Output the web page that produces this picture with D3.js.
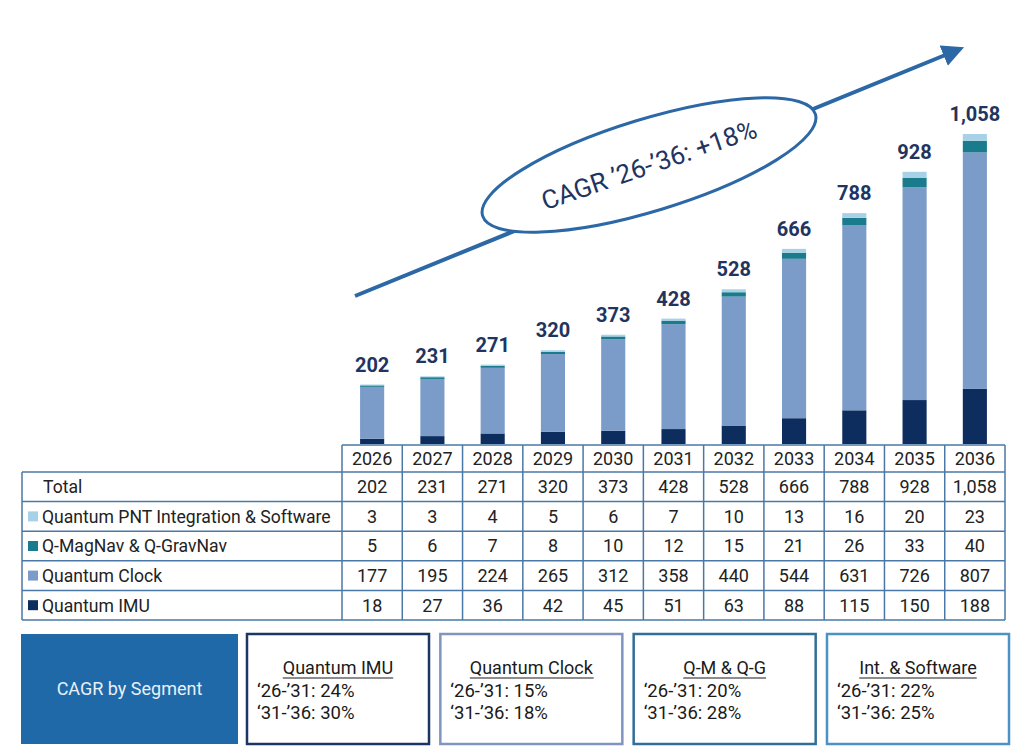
<!DOCTYPE html>
<html lang="en">
<head>
<meta charset="UTF-8">
<title>Quantum PNT market</title>
<script src="https://d3js.org/d3.v7.min.js"></script>
<style>
  body { margin: 0; background: #fff; }
  svg { display: block; font-family: Roboto, "Noto Sans", sans-serif; }
</style>
</head>
<body>
<svg id="chart" width="1024" height="755"></svg>
<script>
// data
const years = ["2026", "2027", "2028", "2029", "2030", "2031", "2032", "2033", "2034", "2035", "2036"];
const totals = [202, 231, 271, 320, 373, 428, 528, 666, 788, 928, 1058];
const pnt = [3, 3, 4, 5, 6, 7, 10, 13, 16, 20, 23];
const magnav = [5, 6, 7, 8, 10, 12, 15, 21, 26, 33, 40];
const clock = [177, 195, 224, 265, 312, 358, 440, 544, 631, 726, 807];
const imu = [18, 27, 36, 42, 45, 51, 63, 88, 115, 150, 188];

const segNames = ["Quantum IMU", "Quantum Clock", "Q-MagNav & Q-GravNav", "Quantum PNT Integration & Software"];
const segColors = ["#0e2d5f", "#7b9bc8", "#1a7b8d", "#a7d1e6"];

const cagrTitles = ["Quantum IMU", "Quantum Clock", "Q-M & Q-G", "Int. & Software"];
const cagr2631 = ["24%", "15%", "20%", "22%"];
const cagr3136 = ["30%", "18%", "28%", "25%"];
const cagrBorders = ["#1b3564", "#7f95c0", "#2f6f98", "#4a93c4"];

const svg = d3.select("#chart");
const navy = "#1f3560";
const lineBlue = "#2c68a6";
const gridBlue = "#4a78a6";

// columns of the table, bars sit in the same columns
const col = d3.scaleBand().domain(years).range([342, 1005]);
const y = d3.scaleLinear().domain([0, 1058]).range([444, 134]);
const barW = col.bandwidth() * 0.4;

// growth arrow with the CAGR bubble
svg.append("defs").append("marker")
    .attr("id", "head")
    .attr("viewBox", "0 0 10 10")
    .attr("refX", 8).attr("refY", 5)
    .attr("markerWidth", 5.5).attr("markerHeight", 5.5)
    .attr("orient", "auto")
  .append("path")
    .attr("d", "M0,0 L10,5 L0,10 z")
    .attr("fill", lineBlue);

svg.append("line")
    .attr("x1", 355).attr("y1", 296)
    .attr("x2", 960).attr("y2", 49)
    .attr("stroke", lineBlue)
    .attr("stroke-width", 4)
    .attr("marker-end", "url(#head)");

const bubble = svg.append("g").attr("transform", "translate(649,165) rotate(-17)");
bubble.append("ellipse")
    .attr("rx", 174).attr("ry", 46)
    .attr("fill", "#fff")
    .attr("stroke", lineBlue)
    .attr("stroke-width", 3);
bubble.append("text")
    .attr("transform", "rotate(-2)")
    .attr("text-anchor", "middle")
    .attr("dy", "0.35em")
    .attr("font-size", 26)
    .attr("fill", navy)
    .text("CAGR \u201926-\u201936: +18%");

// stacked bars
const rows = years.map((yr, i) => ({ year: yr, imu: imu[i], clock: clock[i], magnav: magnav[i], pnt: pnt[i] }));
const stack = d3.stack().keys(["imu", "clock", "magnav", "pnt"]);
const series = stack(rows);

svg.append("g")
  .selectAll("g")
  .data(series)
  .join("g")
    .attr("fill", (d, i) => segColors[i])
  .selectAll("rect")
  .data(d => d)
  .join("rect")
    .attr("x", d => col(d.data.year) + (col.bandwidth() - barW) / 2)
    .attr("y", d => y(d[1]))
    .attr("width", barW)
    .attr("height", d => y(d[0]) - y(d[1]));

svg.append("g")
  .selectAll("text")
  .data(years)
  .join("text")
    .attr("x", d => col(d) + col.bandwidth() / 2)
    .attr("y", (d, i) => y(totals[i]) - 13)
    .attr("text-anchor", "middle")
    .attr("font-size", 20)
    .attr("font-weight", 700)
    .attr("fill", navy)
    .text((d, i) => d3.format(",")(totals[i]));

// table
const tableRows = [
  { label: "Total", color: null, vals: totals },
  { label: segNames[3], color: segColors[3], vals: pnt },
  { label: segNames[2], color: segColors[2], vals: magnav },
  { label: segNames[1], color: segColors[1], vals: clock },
  { label: segNames[0], color: segColors[0], vals: imu }
];
const rowY = d3.scaleBand().domain(d3.range(tableRows.length)).range([472, 620]);
const left = 22;
const headTop = 445;
const fs = 18;
const table = svg.append("g");

// year header
table.selectAll(".yr")
  .data(years)
  .join("text")
    .attr("x", d => col(d) + col.bandwidth() / 2)
    .attr("y", (headTop + 472) / 2)
    .attr("dy", "0.36em")
    .attr("text-anchor", "middle")
    .attr("font-size", fs)
    .attr("fill", "#222")
    .text(d => d);

tableRows.forEach((r, i) => {
  const cy = rowY(i) + rowY.bandwidth() / 2;
  if (r.color) {
    table.append("rect")
        .attr("x", 28).attr("y", cy - 5)
        .attr("width", 10).attr("height", 10)
        .attr("fill", r.color);
  }
  table.append("text")
      .attr("x", r.color ? 42 : 43)
      .attr("y", cy)
      .attr("dy", "0.36em")
      .attr("font-size", 17.6)
      .attr("fill", "#222")
      .text(r.label);
  table.selectAll(null)
    .data(r.vals)
    .join("text")
      .attr("x", (d, j) => col(years[j]) + col.bandwidth() / 2)
      .attr("y", cy)
      .attr("dy", "0.36em")
      .attr("text-anchor", "middle")
      .attr("font-size", fs)
      .attr("fill", "#222")
      .text(d => d3.format(",")(d));
});

// grid lines
const grid = table.append("g").attr("stroke", gridBlue).attr("stroke-width", 1.5).attr("fill", "none");
grid.append("line").attr("x1", col.range()[0]).attr("x2", col.range()[1]).attr("y1", headTop).attr("y2", headTop);
rowY.domain().forEach(i => {
  grid.append("line").attr("x1", left).attr("x2", col.range()[1]).attr("y1", rowY(i)).attr("y2", rowY(i));
});
grid.append("line").attr("x1", left).attr("x2", col.range()[1]).attr("y1", 620).attr("y2", 620);
grid.append("line").attr("x1", left).attr("x2", left).attr("y1", 472).attr("y2", 620);
years.concat([null]).forEach(yr => {
  const x = yr ? col(yr) : col.range()[1];
  grid.append("line").attr("x1", x).attr("x2", x).attr("y1", headTop).attr("y2", 620);
});

// CAGR by segment boxes
const boxTop = 634, boxH = 110;
svg.append("rect")
    .attr("x", 21).attr("y", boxTop)
    .attr("width", 217).attr("height", boxH)
    .attr("fill", "#1f69a8");
svg.append("text")
    .attr("x", 21 + 217 / 2).attr("y", boxTop + boxH / 2)
    .attr("dy", "0.36em")
    .attr("text-anchor", "middle")
    .attr("font-size", 18)
    .attr("fill", "#e8f0f8")
    .text("CAGR by Segment");

const boxX = d3.scaleBand().domain(d3.range(4)).range([247, 1009]).paddingInner(0.0586);
const boxW = boxX.bandwidth();
cagrTitles.forEach((t, i) => {
  const x0 = boxX(i);
  const g = svg.append("g").attr("transform", `translate(${x0},${boxTop})`);
  g.append("rect")
      .attr("width", boxW).attr("height", boxH)
      .attr("fill", "#fff")
      .attr("stroke", cagrBorders[i])
      .attr("stroke-width", 2.5);
  const title = g.append("text")
      .attr("x", boxW / 2).attr("y", 40)
      .attr("text-anchor", "middle")
      .attr("font-size", 18)
      .attr("fill", "#1a1a1a")
      .text(t);
  const bb = title.node().getBBox();
  g.append("line")
      .attr("x1", bb.x).attr("x2", bb.x + bb.width)
      .attr("y1", 44).attr("y2", 44)
      .attr("stroke", "#1a1a1a").attr("stroke-width", 1.2);
  g.append("text")
      .attr("x", 10).attr("y", 63)
      .attr("font-size", 18.5)
      .attr("fill", "#1a1a1a")
      .text("\u201826-\u201931: " + cagr2631[i]);
  g.append("text")
      .attr("x", 10).attr("y", 85)
      .attr("font-size", 18.5)
      .attr("fill", "#1a1a1a")
      .text("\u201831-\u201936: " + cagr3136[i]);
});
</script>
</body>
</html>
